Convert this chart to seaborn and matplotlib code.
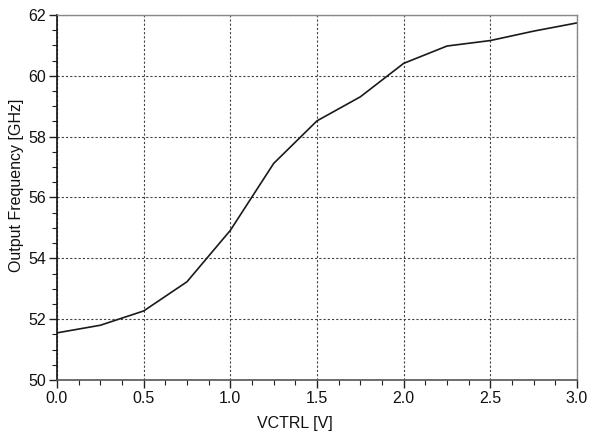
import numpy as np
import pandas as pd
import matplotlib
matplotlib.use("Agg")
import matplotlib.pyplot as plt
import seaborn as sns
from matplotlib.ticker import MultipleLocator

vctrl = [0.0, 0.25, 0.5, 0.75, 1.0, 1.25, 1.5, 1.75, 2.0, 2.25, 2.5, 2.75, 3.0]
freq = [51.55, 51.80, 52.27, 53.23, 54.92, 57.12, 58.52, 59.31, 60.41, 60.98, 61.16, 61.47, 61.74]

df = pd.DataFrame({"VCTRL [V]": vctrl, "Output Frequency [GHz]": freq})

sns.set_style("white")
plt.rcParams["font.family"] = ["Liberation Sans", "DejaVu Sans"]

fig = plt.figure(figsize=(5.9, 4.38), dpi=100)
ax = fig.add_axes([57/590, 58/438, 520/590, 365/438])

sns.lineplot(data=df, x="VCTRL [V]", y="Output Frequency [GHz]", ax=ax,
             color="#1a1a1a", linewidth=1.2)

ax.set_xlim(0, 3.0)
ax.set_ylim(50, 62)
ax.xaxis.set_major_locator(MultipleLocator(0.5))
ax.xaxis.set_minor_locator(MultipleLocator(0.125))
ax.yaxis.set_major_locator(MultipleLocator(2))
ax.yaxis.set_minor_locator(MultipleLocator(0.5))
ax.xaxis.set_major_formatter(matplotlib.ticker.FormatStrFormatter("%.1f"))

ax.grid(True, which="major", linestyle=(0, (2, 1.8)), color="#444444", linewidth=0.8)
ax.tick_params(which="major", direction="out", length=6, width=1, color="#222222",
               labelsize=11.5, pad=2, labelcolor="#111111",
               bottom=True, left=True, top=False, right=False)
ax.tick_params(which="minor", direction="out", length=3.5, width=0.8, color="#222222",
               bottom=True, left=True, top=False, right=False)

ax.spines["left"].set_color("#111111")
ax.spines["left"].set_linewidth(1.2)
ax.spines["bottom"].set_color("#555555")
ax.spines["bottom"].set_linewidth(1.2)
for s in ["top", "right"]:
    ax.spines[s].set_color("#888888")
    ax.spines[s].set_linewidth(1.0)

ax.set_xlabel("VCTRL [V]", fontsize=11.5, color="#111111")
ax.set_ylabel("Output Frequency [GHz]", fontsize=11.5, color="#111111")
ax.xaxis.set_label_coords(0.458, -0.098)
ax.yaxis.set_label_coords(-0.063, 0.533)

fig.savefig("out.png", dpi=100)
